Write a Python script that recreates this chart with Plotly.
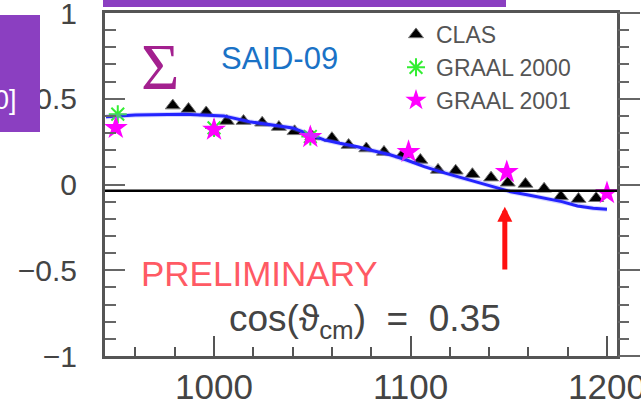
import plotly.graph_objects as go

# Photon beam asymmetry Sigma versus beam energy (MeV), cos(theta_cm) = 0.35
clas_e = [979, 987, 996, 1006.5, 1015, 1024.5, 1033, 1041, 1050, 1060, 1068.5,
          1077.5, 1086.5, 1096, 1105, 1114, 1123, 1131.5, 1141, 1149.5, 1158.5,
          1168, 1176.5, 1185.5, 1194.5]
clas_s = [0.46, 0.44, 0.42, 0.37, 0.37, 0.36, 0.335, 0.31, 0.28, 0.27, 0.23,
          0.21, 0.19, 0.175, 0.143, 0.085, 0.08, 0.06, 0.04, 0.01, 0.003,
          -0.025, -0.07, -0.085, -0.08]

graal2000_e = [951, 1000, 1049]
graal2000_s = [0.41, 0.33, 0.28]

graal2001_e = [950, 1000, 1049, 1099, 1149, 1200]
graal2001_s = [0.33, 0.32, 0.277, 0.19, 0.073, -0.05]

said_e = [945, 960, 985, 1005, 1018, 1030, 1040, 1048, 1056, 1064, 1073, 1081,
          1090, 1098, 1107, 1115, 1124, 1134, 1142, 1151, 1160, 1168, 1177,
          1185, 1193, 1200]
said_s = [0.395, 0.405, 0.41, 0.40, 0.366, 0.347, 0.33, 0.295, 0.26, 0.24, 0.22,
          0.197, 0.172, 0.143, 0.104, 0.075, 0.045, 0.016, -0.013, -0.042,
          -0.061, -0.08, -0.10, -0.125, -0.139, -0.145]

x_range = [944.5, 1205.1]
y_range = [-1, 1]
marked_energy = 1148
reference_level = -0.036

W, H = 641, 403
L, R, T, B = 105, 24, 13, 47
PW, PH = W - L - R, H - T - B


def px(x):
    return (x - L) / PW


def py(y):
    return (H - B - y) / PH


fig = go.Figure()

# faint halo under the SAID-09 solution (on the mirrored right axis)
fig.add_trace(go.Scatter(x=said_e, y=said_s, mode="lines", yaxis="y2",
                         line=dict(color="rgba(120,120,255,0.3)", width=5),
                         showlegend=False, hoverinfo="skip"))
fig.add_trace(go.Scatter(x=clas_e, y=clas_s, mode="markers", name="CLAS",
                         marker=dict(symbol="triangle-up", size=13, color="black",
                                     line=dict(color="#777", width=1))))
fig.add_trace(go.Scatter(x=said_e, y=said_s, mode="lines", name="SAID-09",
                         line=dict(color="#0000FF", width=3), showlegend=False))
fig.add_trace(go.Scatter(x=graal2000_e, y=graal2000_s, mode="markers", name="GRAAL 2000",
                         marker=dict(symbol="asterisk-open", size=15, color="#33EE33",
                                     line=dict(color="#33EE33", width=2))))
fig.add_trace(go.Scatter(x=graal2001_e, y=graal2001_s, mode="markers", name="GRAAL 2001",
                         marker=dict(symbol="star", size=18, color="#FF00FF",
                                     line=dict(color="#FF00FF", width=0))))

axis_font = dict(family="Liberation Sans", color="#444")

fig.update_layout(
    width=W, height=H,
    margin=dict(l=L, r=R, t=T, b=B, pad=0),
    paper_bgcolor="white", plot_bgcolor="white",
    xaxis=dict(range=x_range, tick0=1000, dtick=100, ticks="inside", ticklen=20,
               tickwidth=2, tickcolor="#555", showline=True, mirror=True,
               linecolor="#555", linewidth=3, showgrid=False, zeroline=False,
               tickfont=dict(size=35, **axis_font), ticklabelstandoff=-2,
               ticklabeloverflow="allow", automargin=False,
               minor=dict(dtick=20, ticks="inside", ticklen=9, tickwidth=2,
                          tickcolor="#555", showgrid=False)),
    yaxis=dict(range=y_range, dtick=0.5, ticks="inside", ticklen=20, tickwidth=2,
               tickcolor="#666", showline=True, mirror=True, linecolor="#555",
               linewidth=3, showgrid=False, zeroline=False,
               tickfont=dict(size=30, **axis_font), ticklabelstandoff=19,
               ticklabeloverflow="allow", automargin=False,
               minor=dict(dtick=0.1, ticks="inside", ticklen=11, tickwidth=2,
                          tickcolor="#666", showgrid=False)),
    yaxis2=dict(range=y_range, overlaying="y", side="right", dtick=0.5,
                ticks="outside", ticklen=22, tickwidth=2, tickcolor="#666",
                showticklabels=False, showline=False, showgrid=False,
                zeroline=False, automargin=False,
                minor=dict(dtick=0.1, ticks="outside", ticklen=11, tickwidth=2,
                           tickcolor="#666", showgrid=False)),
    legend=dict(x=px(396), y=1.0, xanchor="left", yanchor="top",
                bgcolor="rgba(0,0,0,0)", itemwidth=30,
                font=dict(family="Liberation Sans", size=23, color="#555")),
    showlegend=True,
)

# horizontal reference line
fig.add_shape(type="line", xref="paper", yref="y", x0=0, x1=1,
              y0=reference_level, y1=reference_level,
              line=dict(color="black", width=2.5))

# purple frame pieces around the panel
fig.add_shape(type="rect", xref="paper", yref="paper", x0=px(103), x1=px(506),
              y0=py(7), y1=py(-2), fillcolor="#8B3FC1", line_width=0, layer="above")
fig.add_shape(type="rect", xref="paper", yref="paper", x0=px(-2), x1=px(40),
              y0=py(132), y1=py(15), fillcolor="#8B3FC1", line_width=0, layer="above")

fig.add_annotation(xref="paper", yref="paper", x=px(19), y=py(100), text="0]",
                   showarrow=False, xanchor="right", yanchor="middle",
                   font=dict(family="Liberation Sans", size=27, color="white"))

fig.add_annotation(xref="paper", yref="paper", x=px(159.5), y=py(66), text="Σ",
                   showarrow=False, xanchor="center", yanchor="middle",
                   font=dict(family="Liberation Serif", size=66, color="#A3208F"))

fig.add_annotation(xref="paper", yref="paper", x=px(219), y=py(59), text="SAID-09",
                   showarrow=False, xanchor="left", yanchor="middle",
                   font=dict(family="Liberation Sans", size=31, color="#1A72C6"))

fig.add_annotation(xref="paper", yref="paper", x=px(139), y=py(273), text="PRELIMINARY",
                   showarrow=False, xanchor="left", yanchor="middle",
                   font=dict(family="Liberation Sans", size=35, color="#FF5A64"))

fig.add_annotation(xref="paper", yref="paper", x=px(227), y=py(321),
                   text="cos(ϑ<sub>cm</sub>)&nbsp;&nbsp;=&nbsp;&nbsp;0.35",
                   showarrow=False, xanchor="left", yanchor="middle",
                   font=dict(family="Liberation Sans", size=37, color="#444"))

# red arrow marking the energy of interest
fig.add_annotation(x=marked_energy, y=-0.13, xref="x", yref="y",
                   ax=marked_energy, ay=-0.505, axref="x", ayref="y",
                   text="", showarrow=True, arrowhead=2, arrowsize=0.6,
                   arrowwidth=5, arrowcolor="#FF1010", standoff=0)

fig.write_html("out.html")
